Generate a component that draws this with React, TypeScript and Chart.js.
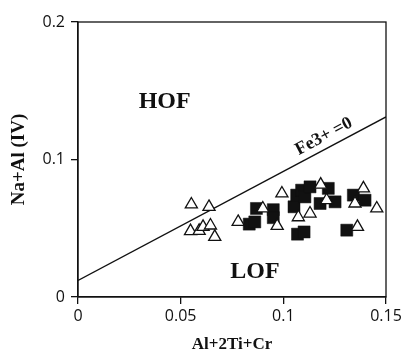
import React, { useEffect, useRef } from "react";
import { Chart, registerables } from "chart.js";

Chart.register(...registerables);

// Open triangles
const TRI_X = [0.0552, 0.0638, 0.0548, 0.059, 0.0609, 0.0645, 0.0666, 0.078, 0.09, 0.097, 0.0993, 0.1073, 0.113, 0.1182, 0.1211, 0.1349, 0.139, 0.1455, 0.1361];
const TRI_Y = [0.0673, 0.0655, 0.0479, 0.0481, 0.051, 0.052, 0.0437, 0.0546, 0.0644, 0.0517, 0.0753, 0.058, 0.0607, 0.0817, 0.0704, 0.068, 0.079, 0.0644, 0.051];
// Filled squares
const SQ_X = [0.0869, 0.0834, 0.0861, 0.0951, 0.0951, 0.1052, 0.1065, 0.1089, 0.1105, 0.113, 0.1069, 0.1101, 0.1179, 0.1219, 0.1252, 0.1341, 0.1398, 0.1309];
const SQ_Y = [0.0644, 0.053, 0.0546, 0.0635, 0.0577, 0.0656, 0.0741, 0.0777, 0.0728, 0.0801, 0.0457, 0.0473, 0.068, 0.079, 0.0692, 0.0741, 0.0704, 0.0486];
// Fe3+ = 0 line
const LINE_X = [0, 0.15];
const LINE_Y = [0.012, 0.131];

const X_TICKS = [0, 0.05, 0.1, 0.15];
const Y_TICKS = [0, 0.1, 0.2];
const X_TITLE = "Al+2Ti+Cr";
const Y_TITLE = "Na+Al (IV)";

const LABELS = ["HOF", "LOF", "Fe3+ =0"];
const LABEL_X = [0.0422, 0.0862, 0.1198];
const LABEL_Y = [0.1418, 0.018, 0.1167];

const SERIF = '"Liberation Serif", "Times New Roman", serif';
const SANS = '"Open Sans", "Noto Sans", sans-serif';

const annotPlugin = {
  id: "annot",
  afterDatasetsDraw(chart: any) {
    const { ctx, scales } = chart;
    const x = scales.x;
    const y = scales.y;
    ctx.save();
    ctx.fillStyle = "#111";
    ctx.textAlign = "center";
    ctx.textBaseline = "middle";
    ctx.font = `bold 24px ${SERIF}`;
    ctx.fillText(LABELS[0], x.getPixelForValue(LABEL_X[0]), y.getPixelForValue(LABEL_Y[0]));
    ctx.fillText(LABELS[1], x.getPixelForValue(LABEL_X[1]), y.getPixelForValue(LABEL_Y[1]));
    const ang = Math.atan2(
      y.getPixelForValue(LINE_Y[1]) - y.getPixelForValue(LINE_Y[0]),
      x.getPixelForValue(LINE_X[1]) - x.getPixelForValue(LINE_X[0])
    );
    ctx.translate(x.getPixelForValue(LABEL_X[2]), y.getPixelForValue(LABEL_Y[2]));
    ctx.rotate(ang);
    ctx.font = `bold 18px ${SERIF}`;
    ctx.fillText(LABELS[2], 0, 0);
    ctx.restore();
    // frame
    const a = chart.chartArea;
    ctx.save();
    ctx.strokeStyle = "#111";
    ctx.lineWidth = 1.3;
    ctx.strokeRect(a.left, a.top, a.right - a.left, a.bottom - a.top);
    ctx.restore();
  },
};

export default function App() {
  const ref = useRef<HTMLCanvasElement>(null);
  useEffect(() => {
    if (!ref.current) return;
    const chart = new Chart(ref.current, {
      type: "scatter",
      data: {
        datasets: [
          {
            label: "tri",
            data: TRI_X.map((v, i) => ({ x: v, y: TRI_Y[i] })),
            pointStyle: "triangle",
            pointRadius: 7,
            pointBackgroundColor: "#fff",
            pointBorderColor: "#111",
            pointBorderWidth: 1.3,
          },
          {
            label: "sq",
            data: SQ_X.map((v, i) => ({ x: v, y: SQ_Y[i] })),
            pointStyle: "rect",
            pointRadius: 8.5,
            pointBackgroundColor: "#111",
            pointBorderColor: "#111",
            pointBorderWidth: 0.5,
          },
          {
            type: "line",
            label: "line",
            data: LINE_X.map((v, i) => ({ x: v, y: LINE_Y[i] })),
            borderColor: "#111",
            borderWidth: 1.4,
            pointRadius: 0,
            showLine: true,
            fill: false,
          } as any,
        ],
      },
      options: {
        animation: false,
        responsive: false,
        layout: { padding: { left: 0, right: 19, top: 22, bottom: 0 } },
        plugins: { legend: { display: false }, tooltip: { enabled: false } },
        scales: {
          x: {
            type: "linear",
            min: 0,
            max: 0.15,
            afterBuildTicks: (s: any) => {
              s.ticks = X_TICKS.map((v) => ({ value: v }));
            },
            afterFit: (s: any) => {
              s.height = 61;
              s.paddingLeft = 0;
              s.paddingRight = 0;
            },
            ticks: {
              font: { family: SANS, size: 16 },
              color: "#111",
              padding: 3,
              maxRotation: 0,
              callback: (v: any) => String(v),
            },
            grid: { drawOnChartArea: false, tickLength: 7, color: "#111", lineWidth: 1.3 },
            border: { display: true, color: "#111", width: 1.3 },
            title: {
              display: true,
              text: X_TITLE,
              font: { family: SERIF, size: 17, weight: "bold" },
              color: "#111",
              padding: { top: 0, bottom: 3 },
            },
          },
          y: {
            type: "linear",
            min: 0,
            max: 0.2,
            afterBuildTicks: (s: any) => {
              s.ticks = Y_TICKS.map((v) => ({ value: v }));
            },
            afterFit: (s: any) => {
              s.width = 78;
              s.paddingTop = 0;
              s.paddingBottom = 0;
            },
            ticks: {
              font: { family: SANS, size: 16 },
              color: "#111",
              padding: 6,
              callback: (v: any) => String(v),
            },
            grid: { drawOnChartArea: false, tickLength: 7, color: "#111", lineWidth: 1.3 },
            border: { display: true, color: "#111", width: 1.3 },
            title: {
              display: true,
              text: Y_TITLE,
              font: { family: SERIF, size: 19, weight: "bold" },
              color: "#111",
              padding: { top: 8, bottom: 0 },
            },
          },
        },
      },
      plugins: [annotPlugin],
    });
    return () => chart.destroy();
  }, []);
  return (
    <div style={{ position: "absolute", left: 0, top: 0, width: 405, height: 358, background: "#fff" }}>
      <canvas ref={ref} width={405} height={358} style={{ display: "block" }} />
    </div>
  );
}
